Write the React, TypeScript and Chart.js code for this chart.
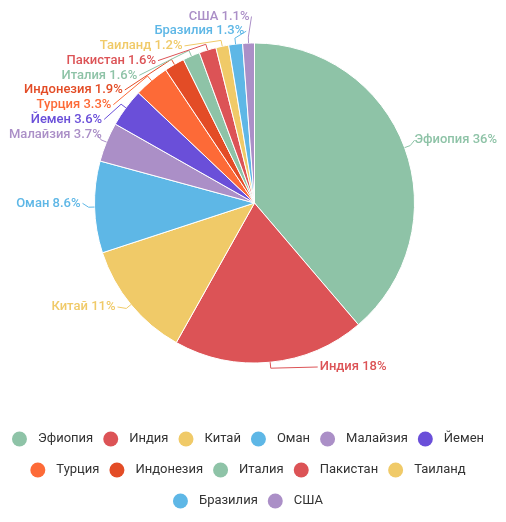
import React, { useEffect, useRef } from 'react';
import { Chart, registerables } from 'chart.js';

Chart.register(...registerables);

const countries = ['Эфиопия', 'Индия', 'Китай', 'Оман', 'Малайзия', 'Йемен', 'Турция', 'Индонезия', 'Италия', 'Пакистан', 'Таиланд', 'Бразилия', 'США'];
const shares = [36, 18, 11, 8.6, 3.7, 3.6, 3.3, 1.9, 1.6, 1.6, 1.2, 1.3, 1.1];
const sliceColors = ['#8ec3a7', '#dc5356', '#f0ca68', '#5eb7e6', '#ab8fc7', '#6a4fd9', '#fd6a37', '#e34c26', '#8ec3a7', '#dc5356', '#f0ca68', '#5eb7e6', '#ab8fc7'];
const labelTexts = countries.map((c, i) => `${c} ${shares[i]}%`);

const LABEL_FONT = '500 13px Roboto';
const LEGEND_FONT = '13px Roboto';
const LEGEND_COLOR = '#333333';
const LABEL_GAP = 14.7;
const LABEL_RADIUS = 172;

type Item = { i: number; cx: number; cy: number; r: number; cos: number; sin: number; right: boolean; ideal: number; y: number };

function placeLabels(list: Item[], minY: number, maxY: number, gap: number) {
  list.sort((a, b) => a.ideal - b.ideal);
  const clusters = list.map((it) => ({ items: [it], top: it.ideal }));
  const fix = (c: { items: Item[]; top: number }) => {
    const n = c.items.length;
    let t = c.items.reduce((s, it, k) => s + it.ideal - k * gap, 0) / n;
    t = Math.max(minY, Math.min(t, maxY - (n - 1) * gap));
    c.top = t;
  };
  clusters.forEach(fix);
  let merged = true;
  while (merged) {
    merged = false;
    for (let k = 1; k < clusters.length; k++) {
      const a = clusters[k - 1];
      const b = clusters[k];
      if (a.top + a.items.length * gap > b.top) {
        a.items = a.items.concat(b.items);
        fix(a);
        clusters.splice(k, 1);
        merged = true;
        break;
      }
    }
  }
  clusters.forEach((c) => c.items.forEach((it, k) => (it.y = c.top + k * gap)));
}

const outsideLabels = {
  id: 'outsideLabels',
  afterDatasetsDraw(chart: any) {
    const ctx = chart.ctx as CanvasRenderingContext2D;
    const meta = chart.getDatasetMeta(0);
    const items: Item[] = meta.data.map((arc: any, i: number) => {
      const p = arc.getProps(['x', 'y', 'startAngle', 'endAngle', 'outerRadius'], true);
      const mid = (p.startAngle + p.endAngle) / 2;
      const cos = Math.cos(mid);
      const sin = Math.sin(mid);
      return { i, cx: p.x, cy: p.y, r: p.outerRadius, cos, sin, right: cos >= 0, ideal: p.y + sin * (p.outerRadius + 10) - 4, y: 0 };
    });
    if (!items.length) return;
    const cy = items[0].cy;
    const minY = 8.5;
    const maxY = cy + 164;
    placeLabels(items.filter((it) => it.right), minY, maxY, LABEL_GAP);
    placeLabels(items.filter((it) => !it.right), minY, maxY, LABEL_GAP);
    ctx.save();
    ctx.font = LABEL_FONT;
    ctx.textBaseline = 'middle';
    ctx.lineWidth = 1;
    items.forEach((it) => {
      const color = sliceColors[it.i];
      let dy = Math.abs(it.y - it.cy);
      if (it.right) dy = Math.min(dy, LABEL_RADIUS * 0.93);
      const dx = Math.sqrt(Math.max(0, LABEL_RADIUS * LABEL_RADIUS - dy * dy));
      const dir = it.right ? 1 : -1;
      const lx = it.cx + dir * Math.max(dx, 3);
      ctx.strokeStyle = color;
      ctx.beginPath();
      ctx.moveTo(it.cx + it.cos * it.r, it.cy + it.sin * it.r);
      ctx.lineTo(it.cx + it.cos * (it.r + 6), it.cy + it.sin * (it.r + 6));
      ctx.lineTo(lx, it.y);
      ctx.stroke();
      ctx.fillStyle = color;
      const text = labelTexts[it.i];
      const tw = ctx.measureText(text).width;
      ctx.textAlign = 'left';
      let tx = it.right ? lx + 2 : lx - 2 - tw;
      tx = Math.max(1, Math.min(tx, chart.width - 1 - tw));
      ctx.fillText(text, tx, it.y);
    });
    ctx.restore();
  },
};

const bottomLegend = {
  id: 'bottomLegend',
  afterDraw(chart: any) {
    const ctx = chart.ctx as CanvasRenderingContext2D;
    ctx.save();
    ctx.font = LEGEND_FONT;
    ctx.textBaseline = 'middle';
    ctx.textAlign = 'left';
    const dot = 15;
    const dotGap = 11;
    const itemGap = 10;
    const widths = countries.map((c) => dot + dotGap + ctx.measureText(c).width);
    const maxW = chart.width - 4;
    const rows: number[][] = [];
    let cur: number[] = [];
    let w = 0;
    widths.forEach((iw, i) => {
      const add = cur.length ? iw + itemGap : iw;
      if (cur.length && w + add > maxW) {
        rows.push(cur);
        cur = [i];
        w = iw;
      } else {
        cur.push(i);
        w += add;
      }
    });
    rows.push(cur);
    const centerX = chart.width / 2 - 5;
    const firstY = chart.height - 75;
    rows.forEach((row, r) => {
      const rowW = row.reduce((s, i) => s + widths[i], 0) + (row.length - 1) * itemGap;
      let x = centerX - rowW / 2;
      const y = firstY + r * 31;
      row.forEach((i) => {
        ctx.fillStyle = sliceColors[i];
        ctx.beginPath();
        ctx.arc(x + dot / 2, y, dot / 2, 0, Math.PI * 2);
        ctx.fill();
        ctx.fillStyle = LEGEND_COLOR;
        ctx.fillText(countries[i], x + dot + dotGap, y);
        x += widths[i] + itemGap;
      });
    });
    ctx.restore();
  },
};

export default function App() {
  const ref = useRef<HTMLCanvasElement>(null);
  useEffect(() => {
    const chart = new Chart(ref.current!, {
      type: 'pie',
      data: {
        labels: countries,
        datasets: [
          {
            data: shares,
            backgroundColor: sliceColors,
            borderColor: '#ffffff',
            borderWidth: 1,
            radius: 160,
          } as any,
        ],
      },
      options: {
        responsive: false,
        animation: false,
        layout: { padding: { top: 0, left: 3, bottom: 116 } },
        plugins: {
          tooltip: { enabled: false },
          legend: { display: false },
        },
      },
      plugins: [outsideLabels, bottomLegend],
    });
    return () => chart.destroy();
  }, []);
  return (
    <div style={{ width: 490, height: 506 }}>
      <canvas ref={ref} width={490} height={506} style={{ display: 'block' }} />
    </div>
  );
}
